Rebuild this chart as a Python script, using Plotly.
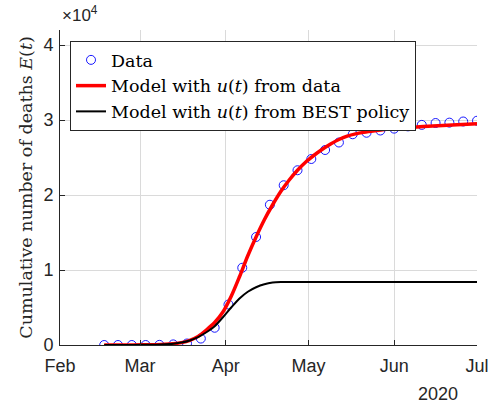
import pandas as pd
import plotly.graph_objects as go

# Observed cumulative deaths (every 5 days from 17 Feb 2020)
data_dates = pd.date_range("2020-02-17", "2020-07-01", freq="5D")
data_values = [0, 0, 0, 0, 20, 80, 200, 860, 2300, 5400, 10300, 14400, 18700,
               21300, 23300, 24800, 26000, 27000, 28100, 28300, 28600, 28850,
               29150, 29350, 29600, 29650, 29800, 29900]

# Model with u(t) from data
model_dates = ["2020-02-17", "2020-02-24", "2020-03-02", "2020-03-07", "2020-03-10",
               "2020-03-13", "2020-03-16", "2020-03-19", "2020-03-22", "2020-03-25",
               "2020-03-28", "2020-03-31", "2020-04-03", "2020-04-06", "2020-04-09",
               "2020-04-12", "2020-04-15", "2020-04-18", "2020-04-21", "2020-04-24",
               "2020-04-27", "2020-04-30", "2020-05-03", "2020-05-06", "2020-05-09",
               "2020-05-12", "2020-05-15", "2020-05-18", "2020-05-21", "2020-05-25",
               "2020-06-01", "2020-06-08", "2020-06-15", "2020-06-22", "2020-07-01"]
model_values = [0, 5, 20, 50, 90, 170, 320, 620, 1150, 2000, 3000, 4400, 6500, 9100,
                11900, 14400, 16700, 18700, 20500, 22000, 23300, 24400, 25300, 26100,
                26800, 27400, 27850, 28150, 28350, 28550, 28850, 29050, 29200, 29350,
                29500]

# Model with u(t) from BEST policy
best_dates = ["2020-02-17", "2020-02-24", "2020-03-02", "2020-03-07", "2020-03-10",
              "2020-03-13", "2020-03-16", "2020-03-19", "2020-03-22", "2020-03-25",
              "2020-03-28", "2020-03-31", "2020-04-03", "2020-04-06", "2020-04-09",
              "2020-04-12", "2020-04-15", "2020-04-18", "2020-04-21", "2020-04-24",
              "2020-04-27", "2020-05-15", "2020-06-01", "2020-07-01"]
best_values = [0, 5, 20, 50, 90, 170, 320, 600, 1050, 1700, 2500, 3700, 5000, 6200,
               7100, 7700, 8100, 8320, 8390, 8400, 8400, 8400, 8400, 8400]

tick_dates = ["2020-02-01", "2020-03-01", "2020-04-01", "2020-05-01", "2020-06-01", "2020-07-01"]
tick_labels = ["Feb", "Mar", "Apr", "May", "Jun", "Jul"]
y_tickvals = [0, 10000, 20000, 30000, 40000]
y_ticktext = ["0", "1", "2", "3", "4"]

AX = "#262626"
GRID = "#dadada"
SANS = "Liberation Sans, Arial, sans-serif"
SERIF = "DejaVu Serif, serif"

fig = go.Figure()
fig.add_trace(go.Scatter(
    x=data_dates, y=data_values, mode="markers", name="Data", legendgroup="a",
    marker=dict(symbol="circle-open", size=9, color="#0000ff", line=dict(width=0.9, color="#0000ff")),
))
fig.add_trace(go.Scatter(
    x=pd.to_datetime(model_dates), y=model_values, mode="lines", legendgroup="b",
    name="Model with <i>u</i>(<i>t</i>) from data",
    line=dict(color="#ff0000", width=3.5, shape="spline", smoothing=0.8),
))
fig.add_trace(go.Scatter(
    x=pd.to_datetime(best_dates), y=best_values, mode="lines", legendgroup="c",
    name="Model with <i>u</i>(<i>t</i>) from BEST policy",
    line=dict(color="#000000", width=2, shape="spline", smoothing=0.8),
))

fig.update_layout(
    width=494, height=409,
    margin=dict(l=60, r=17, t=30, b=64, autoexpand=False),
    paper_bgcolor="white", plot_bgcolor="white",
    showlegend=True,
    legend=dict(
        x=10 / 417, y=(345 - 41) / 315, xanchor="left", yanchor="top",
        bgcolor="white", bordercolor=AX, borderwidth=1,
        font=dict(family=SERIF, size=17.5, color="#000000"),
        itemwidth=30, tracegroupgap=0,
    ),
    xaxis=dict(
        type="date", range=["2020-02-01", "2020-07-01"],
        tickvals=pd.to_datetime(tick_dates), ticktext=tick_labels,
        showgrid=True, gridcolor=GRID, gridwidth=1,
        showline=True, linecolor=AX, linewidth=1,
        ticks="inside", ticklen=5, tickcolor=AX, ticklabelstandoff=4,
        tickfont=dict(family=SANS, size=18, color=AX),
        zeroline=False, automargin=False,
    ),
    yaxis=dict(
        range=[0, 42000],
        tickvals=y_tickvals, ticktext=y_ticktext,
        showgrid=True, gridcolor=GRID, gridwidth=1,
        showline=True, linecolor=AX, linewidth=1,
        ticks="inside", ticklen=5, tickcolor=AX, ticklabelstandoff=2,
        tickfont=dict(family=SANS, size=18, color=AX),
        zeroline=False, automargin=False,
        title=dict(text="Cumulative number of deaths <i>E</i>(<i>t</i>)",
                   font=dict(family=SERIF, size=17.5, color=AX), standoff=6),
    ),
    annotations=[
        dict(text="×10<sup>4</sup>", xref="paper", yref="paper", x=0, y=1.01,
             xanchor="left", yanchor="bottom", showarrow=False,
             font=dict(family=SANS, size=17, color=AX)),
        dict(text="2020", xref="paper", yref="paper", x=(438 - 60) / 417, y=-0.118,
             xanchor="center", yanchor="top", showarrow=False,
             font=dict(family=SANS, size=18, color=AX)),
    ],
)

fig.write_html("out.html", config={"displayModeBar": False},
               post_script="document.body.style.margin='0';")
